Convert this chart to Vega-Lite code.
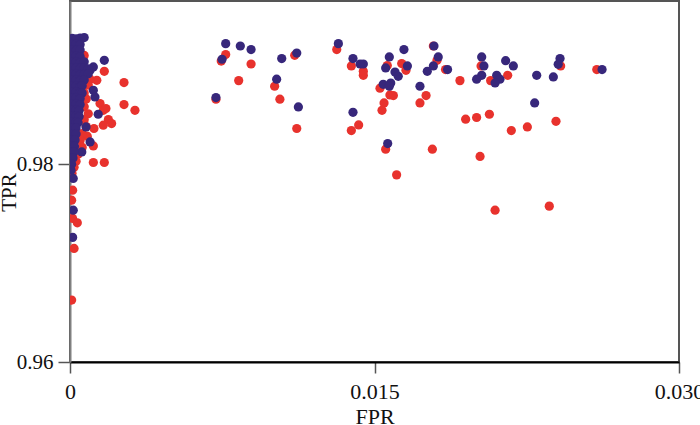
{
  "$schema": "https://vega.github.io/schema/vega-lite/v6.json",
  "width": 609,
  "height": 361,
  "autosize": "none",
  "padding": {"left": 70, "top": 1, "right": 21, "bottom": 63},
  "background": "white",
  "config": {
    "font": "Liberation Serif",
    "view": {"stroke": "#555555", "strokeWidth": 2},
    "axis": {"labelFont": "Liberation Serif", "titleFont": "Liberation Serif", "labelFontSize": 22, "titleFontSize": 22, "titleFontWeight": "normal", "labelColor": "#111", "titleColor": "#111", "grid": false}
  },
  "data": {"values": [
    {"s":"r","x":0.00767,"y":0.99108},{"s":"r","x":0.00745,"y":0.99043},{"s":"r","x":0.00892,"y":0.99013},{"s":"r","x":0.00831,"y":0.98845},
    {"s":"r","x":0.00719,"y":0.98657},{"s":"r","x":0.01008,"y":0.98788},{"s":"r","x":0.01034,"y":0.98657},{"s":"r","x":0.01107,"y":0.99101},
    {"s":"r","x":0.01117,"y":0.98361},{"s":"r","x":0.01314,"y":0.99159},{"s":"r","x":0.01386,"y":0.98993},{"s":"r","x":0.01445,"y":0.98939},
    {"s":"r","x":0.01445,"y":0.98899},{"s":"r","x":0.01386,"y":0.9834},{"s":"r","x":0.01422,"y":0.98397},{"s":"r","x":0.01527,"y":0.98768},
    {"s":"r","x":0.01547,"y":0.98619},{"s":"r","x":0.01537,"y":0.98545},{"s":"r","x":0.01555,"y":0.98152},{"s":"r","x":0.01609,"y":0.97892},
    {"s":"r","x":0.01576,"y":0.987},{"s":"r","x":0.01593,"y":0.98694},{"s":"r","x":0.01634,"y":0.99017},{"s":"r","x":0.01655,"y":0.98949},
    {"s":"r","x":0.01563,"y":0.98997},{"s":"r","x":0.01724,"y":0.98619},{"s":"r","x":0.01754,"y":0.98694},{"s":"r","x":0.01785,"y":0.98152},
    {"s":"r","x":0.0179,"y":0.99195},{"s":"r","x":0.01808,"y":0.9905},{"s":"r","x":0.0185,"y":0.98957},{"s":"r","x":0.01921,"y":0.98845},
    {"s":"r","x":0.02025,"y":0.98993},{"s":"r","x":0.02072,"y":0.98845},{"s":"r","x":0.02156,"y":0.98899},{"s":"r","x":0.02417,"y":0.98993},
    {"s":"r","x":0.02595,"y":0.98957},{"s":"r","x":0.01949,"y":0.98455},{"s":"r","x":0.02003,"y":0.98472},{"s":"r","x":0.02066,"y":0.98505},
    {"s":"r","x":0.02174,"y":0.9834},{"s":"r","x":0.02253,"y":0.98377},{"s":"r","x":0.02394,"y":0.98434},{"s":"r","x":0.02020,"y":0.98078},
    {"s":"r","x":0.02094,"y":0.97535},{"s":"r","x":0.02361,"y":0.97576},
    {"s":"r","x":0.00169,"y":0.98939},{"s":"r","x":0.00266,"y":0.98825},{"s":"r","x":0.00266,"y":0.98603},{"s":"r","x":0.0032,"y":0.98545},
    {"s":"r","x":0.00132,"y":0.98848},{"s":"r","x":0.00099,"y":0.98859},{"s":"r","x":0.00148,"y":0.98613},{"s":"r","x":0.00164,"y":0.98545},
    {"s":"r","x":0.00177,"y":0.98563},{"s":"r","x":0.00189,"y":0.98452},{"s":"r","x":0.00205,"y":0.98411},{"s":"r","x":0.00164,"y":0.98394},
    {"s":"r","x":0.00118,"y":0.98361},{"s":"r","x":0.00085,"y":0.98283},{"s":"r","x":0.00115,"y":0.98185},{"s":"r","x":0.00115,"y":0.98017},
    {"s":"r","x":0.00169,"y":0.98017},{"s":"r","x":0.00049,"y":0.98141},{"s":"r","x":0.00013,"y":0.97737},{"s":"r","x":0.00008,"y":0.97636},
    {"s":"r","x":0.00013,"y":0.97452},{"s":"r","x":0.00036,"y":0.97407},{"s":"r","x":0.0002,"y":0.97148},{"s":"r","x":0.00008,"y":0.96626},
    {"s":"r","x":0.0001,"y":0.97909},
    {"s":"r","x":0.0008,"y":0.9887},{"s":"r","x":0.0009,"y":0.988},{"s":"r","x":0.0007,"y":0.9872},{"s":"r","x":0.0008,"y":0.9866},
    {"s":"r","x":0.0007,"y":0.9858},{"s":"r","x":0.0009,"y":0.9851},{"s":"r","x":0.0007,"y":0.9845},{"s":"r","x":0.0008,"y":0.9838},
    {"s":"r","x":0.0006,"y":0.9831},{"s":"r","x":0.0005,"y":0.9824},{"s":"r","x":0.0006,"y":0.9817},{"s":"r","x":0.0004,"y":0.981},
    {"s":"r","x":0.0003,"y":0.9803},{"s":"r","x":0.0002,"y":0.9797},{"s":"r","x":0.0006,"y":0.9903},{"s":"r","x":0.0007,"y":0.991},
    {"s":"b","x":0.00767,"y":0.99219},{"s":"b","x":0.00839,"y":0.99195},{"s":"b","x":0.00892,"y":0.99159},{"s":"b","x":0.00749,"y":0.99061},
    {"s":"b","x":0.01043,"y":0.99068},{"s":"b","x":0.01117,"y":0.99124},{"s":"b","x":0.01018,"y":0.98859},{"s":"b","x":0.00719,"y":0.98674},
    {"s":"b","x":0.01125,"y":0.98579},{"s":"b","x":0.01322,"y":0.99219},{"s":"b","x":0.01394,"y":0.99068},{"s":"b","x":0.01445,"y":0.99013},
    {"s":"b","x":0.01429,"y":0.99013},{"s":"b","x":0.01573,"y":0.99084},{"s":"b","x":0.01555,"y":0.98973},{"s":"b","x":0.01645,"y":0.99159},
    {"s":"b","x":0.01662,"y":0.98993},{"s":"b","x":0.01601,"y":0.98932},{"s":"b","x":0.01617,"y":0.98889},{"s":"b","x":0.01543,"y":0.98808},
    {"s":"b","x":0.0158,"y":0.98821},{"s":"b","x":0.01573,"y":0.98788},{"s":"b","x":0.01394,"y":0.98525},{"s":"b","x":0.01565,"y":0.98209},
    {"s":"b","x":0.01724,"y":0.98788},{"s":"b","x":0.0176,"y":0.98939},{"s":"b","x":0.0179,"y":0.98993},{"s":"b","x":0.01793,"y":0.99195},
    {"s":"b","x":0.01814,"y":0.99084},{"s":"b","x":0.0186,"y":0.98957},{"s":"b","x":0.02028,"y":0.99084},{"s":"b","x":0.02039,"y":0.98993},
    {"s":"b","x":0.02028,"y":0.98899},{"s":"b","x":0.02003,"y":0.98859},{"s":"b","x":0.02102,"y":0.98899},{"s":"b","x":0.02118,"y":0.98859},
    {"s":"b","x":0.02094,"y":0.98821},{"s":"b","x":0.02146,"y":0.99047},{"s":"b","x":0.02184,"y":0.98993},{"s":"b","x":0.02299,"y":0.98899},
    {"s":"b","x":0.02381,"y":0.98882},{"s":"b","x":0.02414,"y":0.99068},{"s":"b","x":0.02405,"y":0.9901},{"s":"b","x":0.02289,"y":0.98619},
    {"s":"b","x":0.02621,"y":0.98957},
    {"s":"b","x":0.00169,"y":0.9905},{"s":"b","x":0.00139,"y":0.98505},{"s":"b","x":0.00079,"y":0.98377},{"s":"b","x":0.00099,"y":0.98225},
    {"s":"b","x":0.00058,"y":0.98124},{"s":"b","x":0.00099,"y":0.98949},{"s":"b","x":0.00115,"y":0.98983},{"s":"b","x":0.00115,"y":0.98747},
    {"s":"b","x":0.00123,"y":0.9868},{"s":"b","x":0.00016,"y":0.97856},{"s":"b","x":0.00016,"y":0.97535},{"s":"b","x":0.00013,"y":0.9726},
    {"s":"b","x":0.0001,"y":0.99273},{"s":"b","x":0.0003,"y":0.99268},{"s":"b","x":0.0005,"y":0.99276},{"s":"b","x":0.0007,"y":0.9928},
    {"s":"b","x":0.0001,"y":0.99212},{"s":"b","x":0.0003,"y":0.99215},{"s":"b","x":0.0005,"y":0.9921},
    {"s":"b","x":0.0001,"y":0.99152},{"s":"b","x":0.0003,"y":0.9915},{"s":"b","x":0.0005,"y":0.99155},
    {"s":"b","x":0.0001,"y":0.99091},{"s":"b","x":0.0003,"y":0.99093},{"s":"b","x":0.0005,"y":0.99088},
    {"s":"b","x":0.0001,"y":0.9903},{"s":"b","x":0.0003,"y":0.99032},{"s":"b","x":0.0005,"y":0.99028},{"s":"b","x":0.0007,"y":0.99035},
    {"s":"b","x":0.0001,"y":0.9897},{"s":"b","x":0.0003,"y":0.98972},{"s":"b","x":0.0005,"y":0.98968},{"s":"b","x":0.0007,"y":0.98975},{"s":"b","x":0.0009,"y":0.98965},
    {"s":"b","x":0.0001,"y":0.98909},{"s":"b","x":0.0003,"y":0.98912},{"s":"b","x":0.0005,"y":0.98906},{"s":"b","x":0.0007,"y":0.9891},{"s":"b","x":0.0009,"y":0.98915},
    {"s":"b","x":0.0001,"y":0.98848},{"s":"b","x":0.0003,"y":0.9885},{"s":"b","x":0.0005,"y":0.98845},{"s":"b","x":0.0007,"y":0.98852},
    {"s":"b","x":0.0001,"y":0.98788},{"s":"b","x":0.0003,"y":0.9879},{"s":"b","x":0.0005,"y":0.98785},{"s":"b","x":0.0006,"y":0.98792},
    {"s":"b","x":0.0001,"y":0.98727},{"s":"b","x":0.0003,"y":0.9873},{"s":"b","x":0.0005,"y":0.98725},{"s":"b","x":0.0006,"y":0.9872},
    {"s":"b","x":0.0001,"y":0.98667},{"s":"b","x":0.0003,"y":0.9867},{"s":"b","x":0.0005,"y":0.98664},
    {"s":"b","x":0.0001,"y":0.98606},{"s":"b","x":0.0003,"y":0.98608},{"s":"b","x":0.0005,"y":0.98603},
    {"s":"b","x":0.0001,"y":0.98545},{"s":"b","x":0.0003,"y":0.98548},{"s":"b","x":0.00045,"y":0.98542},
    {"s":"b","x":0.0001,"y":0.98485},{"s":"b","x":0.0003,"y":0.98487},{"s":"b","x":0.00045,"y":0.98482},
    {"s":"b","x":0.0001,"y":0.98424},{"s":"b","x":0.0003,"y":0.98426},{"s":"b","x":0.0004,"y":0.9842},
    {"s":"b","x":0.0001,"y":0.98364},{"s":"b","x":0.0003,"y":0.98366},
    {"s":"b","x":0.0001,"y":0.98303},{"s":"b","x":0.0003,"y":0.98305},
    {"s":"b","x":0.0001,"y":0.98242},{"s":"b","x":0.00025,"y":0.98245},
    {"s":"b","x":0.0001,"y":0.98182},{"s":"b","x":0.00022,"y":0.9818},
    {"s":"b","x":0.0001,"y":0.98121},{"s":"b","x":0.0002,"y":0.98124},
    {"s":"b","x":0.00008,"y":0.98061},{"s":"b","x":0.00015,"y":0.98063},
    {"s":"b","x":0.00008,"y":0.98},{"s":"b","x":0.00005,"y":0.97939}
  ]},
  "mark": {"type": "point", "shape": "circle", "filled": true, "opacity": 1, "size": 85, "clip": true},
  "encoding": {
    "x": {"field": "x", "type": "quantitative", "title": "FPR",
      "scale": {"domain": [0, 0.03], "nice": false, "zero": false},
      "axis": {"values": [0, 0.015, 0.03], "labelExpr": "datum.value == 0 ? '0' : format(datum.value, '.3f')",
        "domainColor": "#000", "domainWidth": 2, "tickColor": "#555", "tickWidth": 1.5, "tickSize": 11,
        "labelPadding": 8, "titlePadding": 4, "labelFlush": false}},
    "y": {"field": "y", "type": "quantitative", "title": "TPR",
      "scale": {"domain": [0.96, 0.9965], "nice": false, "zero": false},
      "axis": {"values": [0.96, 0.98], "format": ".2f", "labelFontSize": 21, "titleFontSize": 21,
        "domainColor": "#808080", "domainWidth": 2, "tickColor": "#555", "tickWidth": 1.5, "tickSize": 12,
        "labelPadding": 5, "titleX": -55, "titleY": 191, "titleAngle": -90, "titleAlign": "center", "titleBaseline": "alphabetic", "labelFlush": false}},
    "color": {"field": "s", "type": "nominal", "legend": null,
      "scale": {"domain": ["r", "b"], "range": ["#e8322d", "#37277b"]}}
  }
}
